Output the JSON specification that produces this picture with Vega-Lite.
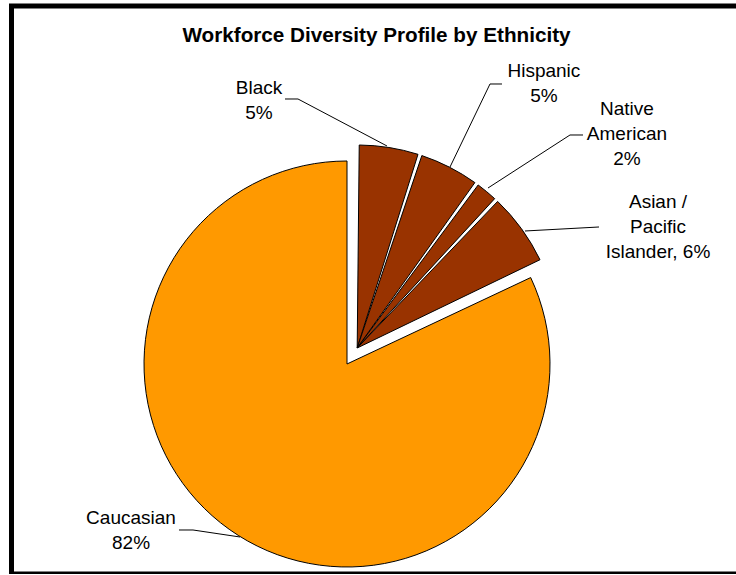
{
  "$schema": "https://vega.github.io/schema/vega-lite/v6.json",
  "width": 730,
  "height": 568,
  "autosize": {"type": "none"},
  "padding": {"left": 11.5, "top": 6, "right": 0, "bottom": 0},
  "background": "white",
  "config": {
    "view": {"stroke": "black", "strokeWidth": 5},
    "font": "Liberation Sans"
  },
  "title": {
    "text": "Workforce Diversity Profile by Ethnicity",
    "font": "Liberation Sans",
    "fontSize": 20.7,
    "fontWeight": "bold",
    "color": "black",
    "anchor": "middle",
    "offset": -41
  },
  "datasets": {
    "ethnicity": [
      {"group": "Black", "pct": 5},
      {"group": "Hispanic", "pct": 5},
      {"group": "Native American", "pct": 2},
      {"group": "Asian / Pacific Islander", "pct": 6},
      {"group": "Caucasian", "pct": 82}
    ],
    "labels": [
      {"group": "Black", "label": "Black\n5%", "u": -0.4335, "v": 1.330},
      {"group": "Hispanic", "label": "Hispanic\n5%", "u": 0.970, "v": 1.414},
      {"group": "Native American", "label": "Native\nAmerican\n2%", "u": 1.379, "v": 1.227},
      {"group": "Asian / Pacific Islander", "label": "Asian /\nPacific\nIslander, 6%", "u": 1.532, "v": 0.768},
      {"group": "Caucasian", "label": "Caucasian\n82%", "u": -1.064, "v": -0.788}
    ],
    "leaders": [
      {"group": "Black", "seq": 1, "u": -0.3054, "v": 1.3054},
      {"group": "Black", "seq": 2, "u": -0.2414, "v": 1.3054},
      {"group": "Black", "seq": 3, "u": 0.1970, "v": 1.0739},
      {"group": "Hispanic", "seq": 1, "u": 0.7635, "v": 1.3793},
      {"group": "Hispanic", "seq": 2, "u": 0.7044, "v": 1.3793},
      {"group": "Hispanic", "seq": 3, "u": 0.5074, "v": 0.9704},
      {"group": "Native American", "seq": 1, "u": 1.1626, "v": 1.1281},
      {"group": "Native American", "seq": 2, "u": 1.0985, "v": 1.1281},
      {"group": "Native American", "seq": 3, "u": 0.6946, "v": 0.8670},
      {"group": "Asian / Pacific Islander", "seq": 1, "u": 1.2414, "v": 0.6749},
      {"group": "Asian / Pacific Islander", "seq": 2, "u": 0.8768, "v": 0.6552},
      {"group": "Caucasian", "seq": 1, "u": -0.8276, "v": -0.8177},
      {"group": "Caucasian", "seq": 2, "u": -0.7586, "v": -0.8177},
      {"group": "Caucasian", "seq": 3, "u": -0.5271, "v": -0.8522}
    ]
  },
  "layer": [
    {
      "data": {"name": "ethnicity"},
      "transform": [
        {"window": [{"op": "row_number", "as": "rank"}]},
        {"stack": "pct", "groupby": [], "sort": [{"field": "rank"}], "as": ["t0", "t1"]},
        {"filter": "datum.group === 'Caucasian'"}
      ],
      "mark": {"type": "arc", "radius": 203, "stroke": "black", "strokeWidth": 1},
      "encoding": {
        "x": {"datum": 0, "type": "quantitative", "scale": {"domain": [-1.6527, 1.9433], "nice": false, "zero": false}, "axis": null},
        "y": {"datum": 0, "type": "quantitative", "scale": {"domain": [-1.0345, 1.7635], "nice": false, "zero": false}, "axis": null},
        "theta": {"field": "t0", "type": "quantitative", "scale": {"domain": [0, 100]}},
        "theta2": {"field": "t1"},
        "color": {
          "field": "group", "type": "nominal", "legend": null,
          "scale": {
            "domain": ["Black", "Hispanic", "Native American", "Asian / Pacific Islander", "Caucasian"],
            "range": ["#993300", "#993300", "#993300", "#993300", "#FF9900"]
          }
        }
      }
    },
    {
      "data": {"name": "ethnicity"},
      "transform": [
        {"window": [{"op": "row_number", "as": "rank"}]},
        {"stack": "pct", "groupby": [], "sort": [{"field": "rank"}], "as": ["t0", "t1"]},
        {"filter": "datum.group !== 'Caucasian'"}
      ],
      "mark": {"type": "arc", "radius": 203, "padAngle": 0.02, "stroke": "black", "strokeWidth": 1},
      "encoding": {
        "x": {"datum": 0.0502, "type": "quantitative", "scale": {"domain": [-1.6527, 1.9433], "nice": false, "zero": false}, "axis": null},
        "y": {"datum": 0.0788, "type": "quantitative", "scale": {"domain": [-1.0345, 1.7635], "nice": false, "zero": false}, "axis": null},
        "theta": {"field": "t0", "type": "quantitative", "scale": {"domain": [0, 100]}},
        "theta2": {"field": "t1"},
        "color": {
          "field": "group", "type": "nominal", "legend": null,
          "scale": {
            "domain": ["Black", "Hispanic", "Native American", "Asian / Pacific Islander", "Caucasian"],
            "range": ["#993300", "#993300", "#993300", "#993300", "#FF9900"]
          }
        }
      }
    },
    {
      "data": {"name": "leaders"},
      "mark": {"type": "line", "color": "black", "strokeWidth": 1},
      "encoding": {
        "x": {"field": "u", "type": "quantitative", "scale": {"domain": [-1.6527, 1.9433], "nice": false, "zero": false}, "axis": null},
        "y": {"field": "v", "type": "quantitative", "scale": {"domain": [-1.0345, 1.7635], "nice": false, "zero": false}, "axis": null},
        "detail": {"field": "group"},
        "order": {"field": "seq", "type": "quantitative"}
      }
    },
    {
      "data": {"name": "labels"},
      "mark": {"type": "text", "font": "Liberation Sans", "fontSize": 19, "lineBreak": "\n", "lineHeight": 25, "align": "center", "baseline": "alphabetic", "color": "black"},
      "encoding": {
        "x": {"field": "u", "type": "quantitative", "scale": {"domain": [-1.6527, 1.9433], "nice": false, "zero": false}, "axis": null},
        "y": {"field": "v", "type": "quantitative", "scale": {"domain": [-1.0345, 1.7635], "nice": false, "zero": false}, "axis": null},
        "text": {"field": "label"}
      }
    }
  ]
}
